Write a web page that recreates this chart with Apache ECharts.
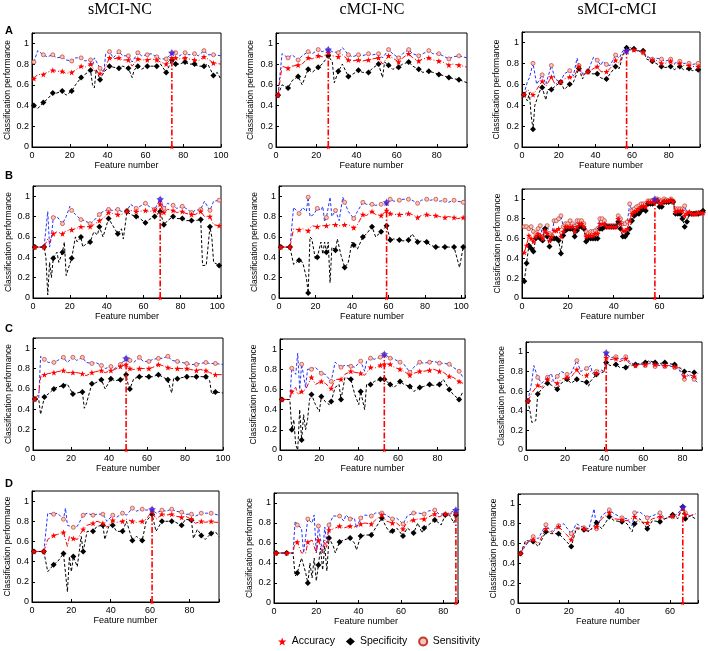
<!DOCTYPE html>
<html><head><meta charset="utf-8">
<script src="https://cdn.jsdelivr.net/npm/echarts@6/dist/echarts.min.js"></script>
<style>html,body{margin:0;padding:0;background:#fff}#c{width:708px;height:651px}</style>
</head><body><div id="c"></div>
<script>
// ---------- DATA ----------
const colTitles = ['sMCI-NC', 'cMCI-NC', 'sMCI-cMCI'];
const rowLabels = ['A', 'B', 'C', 'D'];
const legendNames = ['Accuracy', 'Specificity', 'Sensitivity'];
const yTickValues = [0, 0.2, 0.4, 0.6, 0.8, 1];
const optFeature = [74, 26, 57, 69, 59, 58, 49, 53, 41, 61, 86, 65];
const xMaxes = [100, 95, 97, 102, 102, 79, 100, 94, 90, 95, 87, 71];

const senA1 = [[1,0.82],[3,0.93],[6,0.89],[8,0.87],[11,0.89],[13,0.86],[16,0.87],[18,0.84],[21,0.83],[23,0.86],[26,0.86],[28,0.83],[31,0.84],[32,0.78],[33,0.86],[36,0.76],[38,0.72],[39,0.90],[41,0.92],[43,0.86],[46,0.92],[48,0.88],[51,0.88],[53,0.82],[56,0.91],[58,0.88],[61,0.89],[63,0.90],[66,0.87],[68,0.85],[71,0.85],[74,0.91],[76,0.91],[78,0.88],[81,0.91],[83,0.89],[86,0.90],[88,0.88],[91,0.93],[93,0.89],[96,0.89],[100,0.88]];
const accA1 = [[1,0.66],[3,0.70],[6,0.70],[8,0.72],[11,0.74],[13,0.73],[16,0.73],[18,0.71],[21,0.72],[23,0.74],[26,0.78],[28,0.77],[31,0.80],[33,0.74],[36,0.71],[38,0.74],[41,0.86],[43,0.85],[46,0.86],[48,0.84],[51,0.84],[53,0.78],[56,0.85],[58,0.84],[61,0.84],[63,0.85],[66,0.84],[68,0.82],[71,0.80],[74,0.86],[76,0.86],[78,0.85],[81,0.86],[83,0.85],[86,0.84],[88,0.83],[91,0.87],[93,0.85],[96,0.81],[100,0.80]];
const speA1 = [[1,0.40],[3,0.37],[6,0.43],[8,0.46],[11,0.52],[13,0.52],[16,0.54],[18,0.50],[21,0.54],[23,0.60],[26,0.67],[28,0.70],[31,0.74],[32,0.60],[33,0.57],[34,0.75],[36,0.65],[38,0.72],[41,0.78],[43,0.77],[46,0.76],[48,0.78],[51,0.76],[53,0.67],[54,0.74],[56,0.78],[58,0.75],[61,0.78],[63,0.78],[66,0.78],[68,0.80],[71,0.72],[74,0.84],[76,0.80],[78,0.80],[81,0.82],[83,0.80],[86,0.80],[88,0.78],[91,0.78],[93,0.80],[96,0.69],[98,0.72],[100,0.65]];

const senA2 = [[1,0.50],[3,0.90],[6,0.86],[8,0.89],[11,0.84],[13,0.88],[16,0.92],[18,0.90],[21,0.94],[23,0.92],[26,0.94],[28,0.92],[31,0.91],[33,0.96],[36,0.89],[38,0.87],[41,0.89],[43,0.88],[46,0.90],[48,0.89],[51,0.90],[53,0.86],[56,0.94],[58,0.90],[61,0.86],[63,0.90],[66,0.94],[68,0.90],[71,0.88],[73,0.90],[76,0.93],[78,0.90],[81,0.90],[83,0.88],[86,0.85],[88,0.87],[91,0.88],[95,0.86]];
const accA2 = [[1,0.50],[3,0.78],[6,0.76],[8,0.78],[11,0.79],[13,0.80],[16,0.86],[18,0.85],[21,0.88],[23,0.87],[26,0.91],[28,0.88],[31,0.87],[33,0.89],[36,0.84],[38,0.83],[41,0.84],[43,0.83],[46,0.84],[48,0.85],[51,0.86],[53,0.80],[56,0.88],[58,0.86],[61,0.82],[63,0.86],[66,0.90],[68,0.86],[71,0.83],[73,0.85],[76,0.86],[78,0.84],[81,0.83],[83,0.82],[86,0.79],[88,0.80],[91,0.79],[95,0.77]];
const speA2 = [[1,0.50],[3,0.60],[6,0.57],[8,0.64],[11,0.68],[13,0.60],[16,0.75],[18,0.72],[21,0.77],[23,0.80],[26,0.88],[28,0.82],[29,0.62],[31,0.73],[33,0.80],[36,0.68],[38,0.70],[41,0.74],[43,0.72],[46,0.72],[48,0.76],[51,0.80],[53,0.67],[54,0.82],[56,0.79],[58,0.75],[61,0.77],[63,0.80],[66,0.82],[68,0.78],[71,0.75],[73,0.72],[76,0.73],[78,0.72],[81,0.70],[83,0.69],[86,0.67],[88,0.66],[91,0.65],[95,0.62]];

const senA3 = [[1,0.50],[3,0.63],[4,0.66],[6,0.80],[8,0.60],[11,0.69],[13,0.60],[16,0.78],[18,0.65],[21,0.62],[23,0.70],[26,0.73],[28,0.68],[30,0.85],[31,0.78],[33,0.70],[36,0.73],[39,0.86],[41,0.83],[43,0.78],[44,0.82],[46,0.79],[48,0.78],[51,0.88],[53,0.85],[55,0.92],[57,0.92],[59,0.95],[61,0.93],[63,0.92],[66,0.90],[68,0.87],[71,0.84],[73,0.85],[76,0.84],[78,0.82],[81,0.84],[83,0.80],[86,0.82],[88,0.80],[91,0.80],[93,0.79],[96,0.80],[97,0.79]];
const accA3 = [[1,0.50],[3,0.55],[6,0.50],[8,0.55],[11,0.63],[13,0.58],[16,0.67],[18,0.60],[21,0.62],[23,0.65],[26,0.67],[28,0.66],[31,0.77],[33,0.68],[36,0.72],[38,0.74],[41,0.77],[43,0.72],[46,0.72],[48,0.75],[51,0.83],[53,0.80],[55,0.90],[57,0.92],[59,0.93],[61,0.93],[63,0.92],[66,0.91],[68,0.86],[71,0.83],[73,0.83],[76,0.80],[78,0.80],[81,0.82],[83,0.79],[86,0.80],[88,0.78],[91,0.78],[93,0.77],[96,0.77],[97,0.77]];
const speA3 = [[1,0.50],[3,0.44],[4,0.52],[5,0.30],[6,0.17],[7,0.40],[8,0.45],[10,0.55],[11,0.57],[13,0.45],[14,0.55],[16,0.55],[18,0.58],[21,0.62],[23,0.55],[26,0.60],[28,0.62],[31,0.75],[33,0.65],[34,0.70],[36,0.72],[38,0.70],[41,0.70],[43,0.66],[46,0.65],[48,0.70],[51,0.77],[53,0.75],[55,0.88],[57,0.95],[59,0.93],[61,0.94],[63,0.92],[66,0.92],[68,0.84],[71,0.82],[73,0.80],[76,0.77],[78,0.76],[81,0.77],[83,0.74],[86,0.77],[88,0.74],[91,0.75],[93,0.73],[96,0.74],[97,0.74]];

const senB1 = [[1,0.50],[6,0.50],[8,0.85],[9,0.50],[10,0.60],[11,0.79],[13,0.80],[16,0.73],[18,0.80],[20,0.90],[21,0.86],[23,0.82],[26,0.77],[28,0.76],[31,0.73],[33,0.76],[36,0.82],[38,0.85],[41,0.87],[43,0.86],[46,0.87],[48,0.85],[51,0.86],[53,0.92],[56,0.88],[58,0.90],[61,0.93],[63,0.90],[66,0.87],[69,0.97],[71,0.88],[73,0.93],[76,0.91],[78,0.88],[81,0.90],[83,0.88],[86,0.84],[88,0.86],[91,0.87],[93,0.95],[96,0.86],[98,0.95],[101,0.96]];
const accB1 = [[1,0.50],[6,0.50],[8,0.58],[9,0.55],[11,0.63],[13,0.65],[16,0.63],[18,0.66],[21,0.67],[23,0.68],[26,0.70],[28,0.70],[31,0.70],[33,0.72],[36,0.76],[38,0.78],[41,0.84],[43,0.83],[46,0.82],[48,0.82],[51,0.85],[53,0.86],[56,0.85],[58,0.85],[61,0.86],[63,0.85],[66,0.86],[69,0.92],[71,0.84],[73,0.87],[76,0.86],[78,0.84],[81,0.85],[83,0.83],[86,0.82],[88,0.82],[91,0.85],[93,0.80],[96,0.80],[98,0.72],[101,0.71]];
const speB1 = [[1,0.50],[6,0.50],[7,0.40],[8,0.03],[9,0.35],[10,0.20],[11,0.39],[13,0.45],[14,0.35],[16,0.45],[17,0.55],[18,0.22],[19,0.28],[21,0.39],[23,0.60],[24,0.55],[26,0.60],[27,0.50],[28,0.52],[31,0.55],[33,0.65],[35,0.62],[36,0.70],[38,0.60],[41,0.78],[43,0.72],[46,0.63],[48,0.68],[49,0.58],[51,0.85],[53,0.82],[56,0.80],[58,0.78],[61,0.74],[63,0.77],[66,0.80],[69,0.85],[71,0.72],[73,0.76],[76,0.80],[78,0.78],[81,0.78],[83,0.76],[86,0.76],[88,0.76],[91,0.77],[92,0.32],[94,0.32],[96,0.70],[97,0.60],[98,0.35],[101,0.32]];

const senB2 = [[1,0.50],[6,0.50],[8,0.89],[11,0.83],[13,0.89],[15,0.85],[16,0.99],[17,0.80],[19,0.82],[21,0.88],[23,0.86],[24,0.90],[25,0.75],[26,0.79],[28,0.99],[29,0.80],[31,0.86],[33,0.76],[35,0.99],[36,0.94],[38,0.85],[41,0.78],[43,0.85],[46,0.94],[48,0.92],[51,0.92],[53,0.91],[56,0.92],[59,0.94],[61,0.97],[63,0.95],[66,0.96],[68,0.97],[71,0.97],[73,0.96],[76,0.93],[78,0.96],[81,0.97],[83,0.96],[86,0.97],[88,0.95],[91,0.96],[93,0.94],[96,0.96],[98,0.95],[101,0.94],[102,0.97]];
const accB2 = [[1,0.50],[6,0.50],[8,0.68],[11,0.67],[13,0.68],[16,0.66],[18,0.71],[21,0.70],[23,0.71],[26,0.71],[28,0.72],[31,0.72],[33,0.71],[36,0.72],[38,0.72],[41,0.69],[43,0.72],[46,0.82],[48,0.81],[51,0.85],[53,0.82],[56,0.81],[59,0.86],[61,0.83],[63,0.82],[66,0.82],[68,0.82],[71,0.83],[73,0.82],[76,0.79],[78,0.81],[81,0.82],[83,0.81],[86,0.81],[88,0.80],[91,0.79],[93,0.80],[96,0.79],[98,0.78],[101,0.79]];
const speB2 = [[1,0.50],[6,0.50],[8,0.33],[11,0.37],[13,0.35],[15,0.20],[16,0.05],[17,0.60],[18,0.58],[20,0.38],[21,0.40],[23,0.55],[24,0.43],[25,0.55],[26,0.45],[27,0.55],[28,0.15],[29,0.50],[31,0.47],[32,0.58],[34,0.42],[36,0.30],[38,0.35],[40,0.55],[41,0.52],[43,0.48],[46,0.60],[48,0.63],[51,0.70],[53,0.60],[56,0.65],[59,0.71],[61,0.57],[63,0.58],[66,0.57],[68,0.56],[71,0.57],[73,0.63],[76,0.55],[78,0.56],[81,0.55],[83,0.52],[86,0.50],[88,0.50],[91,0.50],[93,0.50],[96,0.50],[99,0.30],[101,0.50]];

// B3: one value per feature number 1..79
const senB3v = [0.72,0.72,0.70,0.72,0.67,0.65,0.70,0.73,0.62,0.68,0.73,0.65,0.63,0.78,0.78,0.80,0.83,0.72,0.75,0.75,0.78,0.75,0.72,0.78,0.78,0.78,0.75,0.67,0.65,0.67,0.67,0.68,0.70,0.80,0.80,0.78,0.73,0.73,0.73,0.73,0.73,0.83,0.80,0.75,0.75,0.77,0.95,0.88,0.90,0.92,0.93,0.95,0.95,0.95,0.98,0.98,0.98,1.00,1.00,0.99,0.98,1.00,0.99,0.98,1.00,0.98,0.90,0.90,0.90,0.90,0.93,0.86,0.86,0.85,0.85,0.86,0.86,0.86,0.86];
const accB3v = [0.46,0.53,0.63,0.60,0.57,0.62,0.65,0.63,0.60,0.68,0.65,0.58,0.62,0.68,0.68,0.70,0.62,0.67,0.72,0.72,0.72,0.72,0.67,0.72,0.75,0.75,0.72,0.62,0.63,0.63,0.63,0.65,0.65,0.75,0.75,0.75,0.72,0.72,0.72,0.72,0.72,0.80,0.75,0.68,0.68,0.70,0.78,0.85,0.87,0.88,0.90,0.92,0.93,0.92,0.97,0.97,0.97,0.99,0.99,0.96,0.96,0.98,0.98,0.98,0.99,0.97,0.87,0.88,0.88,0.88,0.83,0.85,0.87,0.85,0.85,0.85,0.86,0.86,0.86];
const speB3v = [0.17,0.35,0.53,0.50,0.47,0.60,0.62,0.60,0.58,0.70,0.62,0.52,0.60,0.60,0.60,0.58,0.45,0.63,0.68,0.70,0.70,0.70,0.62,0.68,0.72,0.72,0.70,0.57,0.60,0.60,0.60,0.60,0.60,0.70,0.70,0.72,0.72,0.72,0.72,0.72,0.72,0.77,0.70,0.62,0.62,0.65,0.70,0.78,0.83,0.85,0.85,0.88,0.90,0.88,0.95,0.95,0.95,0.97,0.98,0.92,0.92,0.97,0.97,0.97,0.98,0.97,0.85,0.85,0.85,0.80,0.72,0.77,0.85,0.85,0.85,0.85,0.85,0.86,0.88];

const senC1 = [[1,0.50],[3,0.50],[4,0.92],[6,0.89],[8,0.86],[11,0.86],[13,0.88],[16,0.91],[18,0.86],[21,0.91],[23,0.88],[26,0.91],[28,0.86],[31,0.85],[33,0.86],[36,0.83],[38,0.80],[41,0.82],[43,0.80],[46,0.84],[49,0.90],[51,0.88],[53,0.86],[56,0.91],[58,0.87],[61,0.87],[63,0.89],[66,0.90],[68,0.90],[71,0.92],[73,0.88],[76,0.87],[78,0.86],[81,0.85],[83,0.84],[86,0.84],[88,0.85],[91,0.86],[93,0.85],[96,0.85],[100,0.84]];
const accC1 = [[1,0.50],[3,0.55],[4,0.72],[6,0.74],[8,0.75],[11,0.76],[13,0.77],[16,0.78],[18,0.76],[21,0.76],[23,0.76],[26,0.75],[28,0.73],[31,0.76],[33,0.77],[36,0.78],[38,0.76],[41,0.78],[43,0.79],[46,0.82],[49,0.84],[51,0.80],[53,0.79],[56,0.80],[58,0.80],[61,0.80],[63,0.81],[66,0.84],[68,0.83],[71,0.81],[73,0.80],[76,0.80],[78,0.80],[81,0.80],[83,0.79],[86,0.78],[88,0.79],[91,0.78],[93,0.76],[96,0.74],[100,0.74]];
const speC1 = [[1,0.50],[3,0.50],[4,0.35],[6,0.52],[8,0.55],[11,0.60],[13,0.62],[16,0.63],[18,0.65],[21,0.55],[23,0.56],[26,0.57],[27,0.41],[28,0.45],[31,0.65],[33,0.66],[36,0.69],[38,0.60],[41,0.70],[43,0.68],[46,0.69],[48,0.70],[49,0.74],[50,0.65],[51,0.60],[53,0.70],[56,0.72],[58,0.72],[61,0.72],[63,0.72],[66,0.74],[68,0.72],[71,0.69],[72,0.62],[73,0.56],[74,0.70],[76,0.70],[78,0.71],[81,0.72],[83,0.72],[86,0.72],[88,0.72],[91,0.72],[93,0.68],[94,0.55],[96,0.57],[100,0.56]];

const senC2 = [[1,0.50],[5,0.50],[6,0.81],[8,0.75],[9,0.96],[10,0.60],[11,0.85],[13,0.62],[14,0.80],[16,0.80],[18,0.82],[21,0.76],[23,0.75],[26,0.68],[28,0.87],[31,0.82],[33,0.84],[36,0.83],[38,0.82],[41,0.88],[43,0.78],[44,0.88],[46,0.91],[48,0.90],[51,0.92],[53,0.95],[56,0.91],[58,0.90],[61,0.87],[63,0.85],[66,0.77],[68,0.82],[71,0.87],[73,0.86],[76,0.87],[78,0.88],[81,0.86],[83,0.86],[86,0.85],[88,0.82],[91,0.78],[93,0.72]];
const accC2 = [[1,0.50],[5,0.50],[6,0.58],[8,0.62],[9,0.55],[11,0.58],[13,0.60],[16,0.72],[18,0.65],[21,0.68],[23,0.66],[26,0.61],[28,0.70],[31,0.70],[33,0.75],[36,0.78],[38,0.77],[41,0.76],[43,0.74],[46,0.82],[48,0.81],[51,0.84],[53,0.85],[56,0.85],[58,0.82],[61,0.80],[63,0.78],[66,0.74],[68,0.76],[71,0.78],[73,0.78],[76,0.79],[78,0.80],[81,0.78],[83,0.77],[86,0.73],[88,0.72],[91,0.68],[93,0.66]];
const speC2 = [[1,0.50],[5,0.50],[6,0.20],[7,0.30],[8,0.05],[9,0.00],[10,0.40],[11,0.10],[12,0.35],[13,0.20],[14,0.30],[15,0.50],[16,0.55],[18,0.45],[20,0.38],[21,0.53],[23,0.48],[25,0.45],[26,0.48],[28,0.62],[30,0.65],[31,0.50],[33,0.72],[36,0.70],[38,0.55],[40,0.45],[41,0.58],[43,0.40],[44,0.65],[46,0.65],[48,0.68],[51,0.70],[53,0.70],[56,0.65],[58,0.62],[61,0.68],[63,0.65],[66,0.63],[68,0.58],[71,0.62],[73,0.63],[76,0.65],[78,0.64],[81,0.65],[83,0.70],[86,0.60],[88,0.55],[91,0.50],[93,0.58]];

const senC3 = [[1,0.50],[3,0.70],[4,0.86],[5,0.84],[6,0.74],[8,0.68],[11,0.74],[13,0.78],[14,0.70],[16,0.75],[18,0.80],[21,0.77],[23,0.78],[26,0.91],[28,0.80],[31,0.83],[33,0.86],[34,0.78],[36,0.80],[38,0.82],[40,0.80],[41,0.99],[43,0.94],[46,0.95],[48,0.92],[51,0.95],[53,0.90],[56,0.86],[58,0.88],[61,0.86],[63,0.90],[66,0.85],[68,0.88],[71,0.85],[73,0.86],[76,0.84],[78,0.83],[81,0.72],[83,0.76],[86,0.72],[88,0.68]];
const accC3 = [[1,0.50],[3,0.58],[6,0.66],[8,0.64],[11,0.72],[13,0.70],[16,0.68],[18,0.72],[21,0.74],[23,0.74],[26,0.82],[28,0.76],[31,0.76],[33,0.80],[36,0.78],[38,0.80],[40,0.80],[41,0.94],[43,0.92],[46,0.93],[48,0.90],[51,0.93],[53,0.88],[56,0.86],[58,0.87],[61,0.87],[63,0.88],[66,0.87],[68,0.86],[71,0.86],[73,0.86],[76,0.85],[78,0.84],[81,0.75],[83,0.77],[86,0.75],[88,0.72]];
const speC3 = [[1,0.50],[2,0.40],[3,0.28],[5,0.30],[6,0.57],[8,0.62],[11,0.68],[13,0.66],[16,0.62],[18,0.68],[21,0.72],[23,0.68],[26,0.72],[28,0.70],[31,0.69],[32,0.65],[33,0.70],[36,0.77],[38,0.78],[40,0.80],[41,0.89],[43,0.86],[46,0.87],[48,0.84],[51,0.84],[53,0.86],[56,0.87],[58,0.88],[61,0.89],[63,0.91],[66,0.89],[68,0.88],[71,0.89],[73,0.88],[76,0.87],[78,0.85],[81,0.80],[83,0.80],[86,0.79],[88,0.78]];

const senD1 = [[1,0.50],[6,0.50],[8,0.88],[11,0.87],[13,0.88],[16,0.82],[17,0.93],[18,0.76],[21,0.74],[23,0.75],[26,0.86],[28,0.88],[31,0.86],[33,0.87],[36,0.87],[38,0.80],[41,0.86],[43,0.84],[46,0.88],[48,0.86],[51,0.93],[53,0.90],[56,0.92],[58,0.91],[61,0.92],[63,0.88],[66,0.91],[68,0.90],[71,0.92],[73,0.90],[76,0.89],[78,0.87],[81,0.87],[83,0.85],[86,0.88],[88,0.88],[91,0.88],[93,0.87],[95,0.86]];
const accD1 = [[1,0.50],[6,0.50],[8,0.62],[11,0.66],[13,0.67],[16,0.69],[18,0.55],[19,0.65],[21,0.63],[23,0.62],[26,0.72],[28,0.76],[31,0.78],[33,0.80],[36,0.78],[38,0.74],[41,0.81],[43,0.79],[46,0.80],[48,0.82],[51,0.80],[53,0.79],[56,0.80],[58,0.82],[61,0.90],[63,0.82],[66,0.87],[68,0.86],[71,0.87],[73,0.85],[76,0.84],[78,0.85],[81,0.82],[83,0.78],[86,0.80],[88,0.79],[91,0.80],[93,0.79],[95,0.79]];
const speD1 = [[1,0.50],[6,0.50],[8,0.30],[11,0.37],[13,0.40],[16,0.48],[18,0.10],[19,0.45],[20,0.30],[21,0.45],[23,0.35],[25,0.65],[26,0.50],[28,0.70],[31,0.70],[33,0.75],[36,0.76],[37,0.62],[39,0.75],[41,0.76],[43,0.70],[46,0.70],[48,0.80],[51,0.61],[53,0.65],[56,0.61],[58,0.80],[61,0.87],[63,0.70],[66,0.80],[68,0.80],[71,0.80],[73,0.79],[76,0.76],[78,0.82],[81,0.81],[82,0.63],[84,0.72],[86,0.66],[88,0.62],[91,0.68],[93,0.70],[95,0.65]];

const senD2 = [[1,0.50],[6,0.50],[9,0.50],[10,0.82],[11,0.78],[13,0.75],[14,0.50],[16,0.84],[18,0.80],[19,0.88],[20,0.50],[21,0.77],[23,0.50],[24,0.76],[25,0.60],[26,0.78],[28,0.87],[31,0.87],[33,0.82],[34,0.88],[36,0.84],[38,0.85],[39,0.75],[41,0.85],[43,0.88],[46,0.87],[48,0.90],[51,0.90],[53,0.88],[56,0.84],[58,0.85],[61,0.79],[63,0.87],[66,0.90],[68,0.90],[71,0.89],[73,0.92],[76,0.93],[78,0.89],[81,0.89],[83,0.90],[86,0.93]];
const accD2 = [[1,0.50],[6,0.50],[9,0.50],[10,0.62],[11,0.61],[13,0.50],[15,0.50],[16,0.61],[18,0.63],[20,0.50],[21,0.63],[23,0.50],[24,0.63],[25,0.55],[26,0.73],[28,0.74],[31,0.77],[33,0.75],[36,0.77],[38,0.76],[41,0.79],[43,0.80],[46,0.79],[48,0.83],[51,0.88],[53,0.82],[56,0.80],[58,0.80],[61,0.74],[63,0.81],[66,0.83],[68,0.84],[71,0.84],[73,0.86],[76,0.89],[78,0.86],[81,0.89],[83,0.89],[86,0.90]];
const speD2 = [[1,0.50],[6,0.50],[9,0.50],[10,0.27],[11,0.30],[13,0.45],[15,0.30],[16,0.20],[17,0.40],[18,0.25],[19,0.45],[20,0.22],[21,0.38],[22,0.55],[23,0.33],[24,0.57],[25,0.32],[26,0.65],[28,0.57],[29,0.50],[31,0.61],[33,0.63],[36,0.65],[38,0.60],[39,0.53],[41,0.67],[43,0.68],[46,0.68],[48,0.75],[51,0.85],[53,0.76],[55,0.70],[56,0.72],[58,0.75],[61,0.67],[63,0.75],[66,0.70],[68,0.80],[70,0.70],[71,0.75],[73,0.78],[76,0.83],[78,0.80],[79,0.78],[81,0.88],[83,0.88],[85,0.80],[86,0.88]];

const senD3 = [[1,0.50],[3,0.58],[6,0.67],[8,0.65],[11,0.79],[13,0.72],[16,0.78],[18,0.80],[21,0.70],[23,0.80],[26,0.76],[28,0.75],[30,0.95],[31,0.75],[33,0.88],[36,0.94],[38,0.90],[41,0.86],[43,0.85],[45,0.78],[46,0.91],[48,0.92],[51,0.86],[53,0.88],[56,0.91],[58,0.85],[61,0.87],[63,0.90],[65,0.97],[66,0.91],[68,0.88],[70,0.90]];
const accD3 = [[1,0.50],[3,0.60],[6,0.64],[8,0.60],[11,0.75],[13,0.70],[16,0.77],[18,0.72],[21,0.64],[23,0.76],[26,0.75],[28,0.73],[31,0.77],[33,0.85],[36,0.91],[38,0.85],[41,0.84],[43,0.83],[46,0.87],[48,0.82],[51,0.81],[53,0.85],[56,0.87],[58,0.85],[61,0.88],[63,0.87],[65,0.96],[66,0.89],[68,0.88],[70,0.90]];
const speD3 = [[1,0.50],[3,0.63],[6,0.62],[8,0.57],[11,0.72],[13,0.70],[16,0.70],[18,0.65],[21,0.57],[23,0.75],[26,0.74],[28,0.72],[31,0.81],[33,0.75],[36,0.87],[38,0.83],[41,0.82],[43,0.80],[45,0.72],[46,0.80],[48,0.85],[51,0.75],[53,0.83],[56,0.82],[58,0.85],[61,0.89],[63,0.85],[65,0.97],[66,0.85],[68,0.88],[70,0.85]];

// ---------- BUILD ----------
const seq = vals => vals.map((v, i) => [i + 1, v]);
const panels = [
  [accA1, speA1, senA1], [accA2, speA2, senA2], [accA3, speA3, senA3],
  [accB1, speB1, senB1], [accB2, speB2, senB2], [seq(accB3v), seq(speB3v), seq(senB3v)],
  [accC1, speC1, senC1], [accC2, speC2, senC2], [accC3, speC3, senC3],
  [accD1, speD1, senD1], [accD2, speD2, senD2], [accD3, speD3, senD3]
];
const markerStep = [5, 5, 5, 5, 5, 1, 5, 5, 5, 5, 5, 5];

// layout (pixels): left, top, width, height, y-name gap
const layout = [
  [32, 33, 189, 114, 18], [276, 33, 191, 114, 21], [522, 32, 178, 115, 21],
  [33, 186, 188, 112, 17], [279, 186, 186, 112, 18], [522, 189, 181, 109, 15],
  [33, 338, 190, 112, 20], [280, 339, 185, 111, 22], [526, 342, 176, 108, 20],
  [32, 491, 187, 111, 17], [274, 493, 184, 110, 20], [518, 494, 180, 109, 19]
];
const colCenters = [120, 372, 617];
const rowLetterY = [31, 176, 329, 484];

const FONT = '"Liberation Sans", Arial, sans-serif';
const STAR = 'path://M0,-10L2.35,-3.24L9.51,-3.09L3.8,1.24L5.88,8.09L0,4L-5.88,8.09L-3.8,1.24L-9.51,-3.09L-2.35,-3.24Z';

const grids = [], xAxes = [], yAxes = [], series = [];
panels.forEach((p, i) => {
  const L = layout[i];
  const opt = optFeature[i];
  const step = markerStep[i];
  const isMark = x => step === 1 || (x - 1) % 5 === 0 || x === opt;
  grids.push({left: L[0], top: L[1], width: L[2], height: L[3], show: true,
    borderColor: '#000', borderWidth: 1, backgroundColor: '#fff'});
  xAxes.push({gridIndex: i, type: 'value', min: 0, max: xMaxes[i], interval: 20,
    axisLine: {show: true, onZero: false, lineStyle: {color: '#000', width: 1}},
    axisTick: {show: true, inside: true, length: 3, lineStyle: {color: '#000'}},
    axisLabel: {fontSize: 9, color: '#000', fontFamily: FONT, margin: 4,
      formatter: v => (Math.abs(v % 20) < 1e-6 ? String(v) : '')},
    splitLine: {show: false},
    name: 'Feature number', nameLocation: 'middle', nameGap: 14,
    nameTextStyle: {fontSize: 9, color: '#000', fontFamily: FONT}});
  yAxes.push({gridIndex: i, type: 'value', min: 0, max: 1.1, interval: 0.2,
    axisLine: {show: true, onZero: false, lineStyle: {color: '#000', width: 1}},
    axisTick: {show: true, inside: true, length: 3, lineStyle: {color: '#000'}},
    axisLabel: {fontSize: 9, color: '#000', fontFamily: FONT, margin: 3,
      formatter: v => {
        const r = Math.round(v * 10) / 10;
        return yTickValues.some(t => Math.abs(t - r) < 1e-6) && Math.abs(v - r) < 1e-6 ? String(r) : '';
      }},
    splitLine: {show: false},
    name: 'Classification performance', nameLocation: 'middle', nameGap: L[4],
    nameTextStyle: {fontSize: 8.5, color: '#000', fontFamily: FONT}});

  const [acc, spe, sen] = p;
  const common = {type: 'line', xAxisIndex: i, yAxisIndex: i, showSymbol: true,
    animation: false, silent: true, clip: false};
  series.push(Object.assign({}, common, {name: 'Sensitivity', data: sen, symbol: 'circle',
    symbolSize: v => isMark(v[0]) ? 4 : 0,
    itemStyle: {color: '#f7c6bf', borderColor: '#c0392b', borderWidth: 0.7},
    lineStyle: {color: '#2233ff', width: 1, type: [3, 2]}, z: 2}));
  series.push(Object.assign({}, common, {name: 'Specificity', data: spe, symbol: 'diamond',
    symbolSize: v => isMark(v[0]) ? 6 : 0,
    itemStyle: {color: '#000'},
    lineStyle: {color: '#000', width: 1, type: [3, 2]}, z: 3}));
  series.push(Object.assign({}, common, {name: 'Accuracy', data: acc, symbol: STAR,
    symbolSize: v => isMark(v[0]) ? 6 : 0,
    itemStyle: {color: '#ff0000'},
    lineStyle: {color: '#ff0000', width: 1, type: [5, 2, 1, 2]}, z: 4}));

  // optimal feature number: vertical dash-dot line up to the highest value there
  const at = arr => { const f = arr.find(d => d[0] === opt); return f ? f[1] : 0; };
  const top = Math.max(at(acc), at(spe), at(sen));
  series.push(Object.assign({}, common, {name: 'optimum', data: [[opt, 0], [opt, top]],
    symbol: STAR, symbolSize: v => v[1] === 0 ? 5 : 0,
    itemStyle: {color: '#ff0000'},
    lineStyle: {color: '#ff0000', width: 1.6, type: [6, 2, 1.5, 2]}, z: 5}));
  series.push({type: 'scatter', name: 'best', xAxisIndex: i, yAxisIndex: i, animation: false,
    silent: true, data: [[opt, at(sen)]], symbol: STAR, symbolSize: 8,
    itemStyle: {color: '#2222ff'}, z: 6});
});

const graphics = [];
colTitles.forEach((t, c) => graphics.push({type: 'text', x: colCenters[c], y: 10,
  style: {text: t, font: '16px "Liberation Serif", "Times New Roman", serif', fill: '#000',
    textAlign: 'center', textVerticalAlign: 'middle', align: 'center', verticalAlign: 'middle'}}));
rowLabels.forEach((t, r) => graphics.push({type: 'text', x: 5, y: rowLetterY[r],
  style: {text: t, font: 'bold 11px "Liberation Sans", Arial, sans-serif', fill: '#000',
    textAlign: 'left', textVerticalAlign: 'middle', align: 'left', verticalAlign: 'middle'}}));

const chart = echarts.init(document.getElementById('c'), null, {renderer: 'canvas'});
chart.setOption({
  animation: false,
  backgroundColor: '#fff',
  grid: grids, xAxis: xAxes, yAxis: yAxes, series: series,
  graphic: graphics,
  legend: {
    data: [{name: legendNames[0], icon: STAR}, {name: legendNames[1], icon: 'diamond'},
           {name: legendNames[2], icon: 'circle'}],
    left: 278, top: 636, itemWidth: 9, itemHeight: 8, itemGap: 11, padding: 0,
    textStyle: {fontSize: 10.5, color: '#000', fontFamily: FONT}
  }
});
</script></body></html>
